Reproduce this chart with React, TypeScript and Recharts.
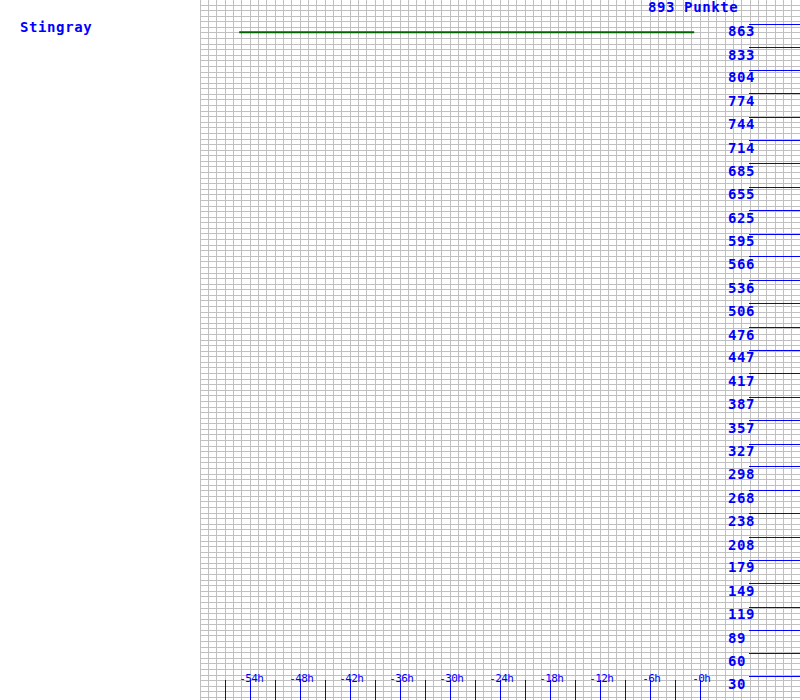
import { LineChart, Line, XAxis, YAxis, CartesianGrid } from 'recharts';

const hours = [-55.3, -0.7];
const points = [852, 852];
const xTicks = [-57, -54, -51, -48, -45, -42, -39, -36, -33, -30, -27, -24, -21, -18, -15, -12, -9, -6, -3, 0];
const yTicks = [30, 60, 89, 119, 149, 179, 208, 238, 268, 298, 327, 357, 387, 417, 447, 476, 506, 536, 566, 595, 625, 655, 685, 714, 744, 774, 804, 833, 863];
const maxScore = 893;
const playerName = 'Stingray';

const data = hours.map((h, i) => ({ h, score: points[i] }));

const W = 800;
const H = 700;
const LEFT = 200;
const BLUE = '#0000ff';
const MONO = '"DejaVu Sans Mono", monospace';
const MARGIN = { top: 0, right: -1, bottom: -1, left: LEFT };

const vGrid = Array.from({ length: 73 }, (_, k) => Math.floor(LEFT + (k * (W - LEFT)) / 72 + 1e-6) + 0.5);
const hGrid = Array.from({ length: 125 }, (_, k) => Math.floor(5 + k * 5.584) + 0.5);

function HourTick(props: any) {
  const { x, payload } = props;
  const v = payload.value;
  const px = Math.floor(x + 1e-6) + 0.5;
  return (
    <g>
      <line x1={px} x2={px} y1={680} y2={H} stroke={BLUE} strokeWidth={1} shapeRendering="crispEdges" />
      {v % 6 === 0 && (
        <text x={x + 1.3} y={681.5} textAnchor="middle" fill={BLUE} fontFamily={MONO} fontSize={11} letterSpacing={-0.6}>
          {`-${Math.abs(v)}h`}
        </text>
      )}
    </g>
  );
}

function ScoreTick(props: any) {
  const { y, payload } = props;
  const py = Math.round(y) + 0.5;
  return (
    <g>
      <line x1={749} x2={W} y1={py} y2={py} stroke={BLUE} strokeWidth={1} shapeRendering="crispEdges" />
      <text x={728} y={y + 12.7} fill={BLUE} fontFamily={MONO} fontSize={14} fontWeight="bold" letterSpacing={0.6}>
        {payload.value}
      </text>
    </g>
  );
}

const labelStyle = {
  position: 'absolute' as const,
  color: BLUE,
  fontFamily: MONO,
  fontSize: 14,
  fontWeight: 'bold' as const,
  letterSpacing: '0.6px',
  lineHeight: '16px',
  whiteSpace: 'nowrap' as const,
};

const layer = { position: 'absolute' as const, left: 0, top: 0 };

export default function App() {
  return (
    <div style={{ position: 'absolute', left: 0, top: 0, width: W, height: H, background: '#fff', overflow: 'hidden' }}>
      {/* background grid */}
      <div style={layer}>
        <LineChart width={W} height={H} data={data} margin={MARGIN}>
          <CartesianGrid stroke="#c0c0c0" strokeWidth={1} verticalPoints={vGrid} horizontalPoints={hGrid} shapeRendering="crispEdges" />
          <XAxis dataKey="h" type="number" domain={[-60, 12]} height={1} hide />
          <YAxis type="number" domain={[0, maxScore]} orientation="right" width={1} hide />
        </LineChart>
      </div>
      {/* axes and score line */}
      <div style={layer}>
        <LineChart width={W} height={H} data={data} margin={MARGIN}>
          <XAxis
            dataKey="h"
            type="number"
            domain={[-60, 12]}
            ticks={xTicks}
            interval={0}
            height={1}
            axisLine={false}
            tickLine={false}
            tickSize={0}
            tickMargin={0}
            tick={<HourTick />}
          />
          <YAxis
            orientation="right"
            type="number"
            domain={[0, maxScore]}
            ticks={yTicks}
            interval={0}
            width={1}
            axisLine={false}
            tickLine={false}
            tickSize={0}
            tickMargin={0}
            tick={<ScoreTick />}
          />
          <Line
            dataKey="score"
            stroke="#006400"
            strokeWidth={2}
            dot={false}
            isAnimationActive={false}
          />
        </LineChart>
      </div>
      <div style={{ ...labelStyle, left: 20, top: 19 }}>{playerName}</div>
      <div style={{ ...labelStyle, left: 648, top: -1.5 }}>{maxScore} Punkte</div>
    </div>
  );
}
